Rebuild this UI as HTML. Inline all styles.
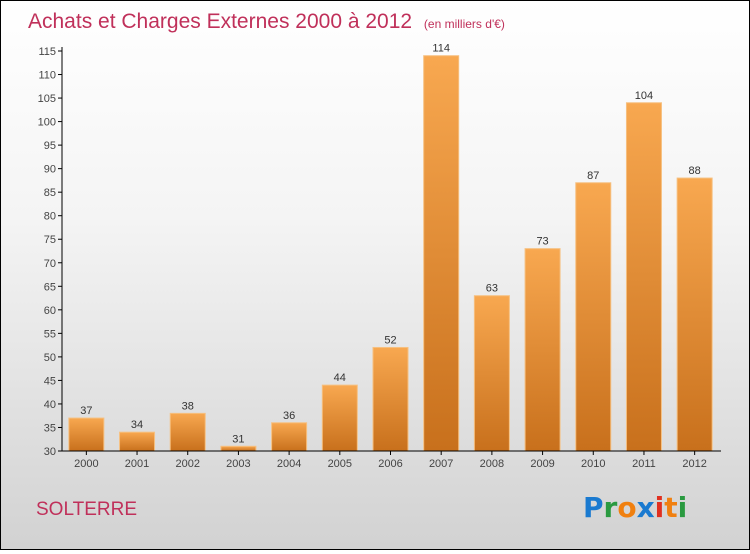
<!DOCTYPE html>
<html><head><meta charset="utf-8"><style>
body{margin:0;width:750px;height:550px;overflow:hidden;font-family:"Liberation Sans",sans-serif}
#c{position:absolute;left:0;top:0;width:748px;height:548px;border:1px solid #000;background:linear-gradient(#fff 0%,#f4f4f4 40%,#d2d2d2 100%)}
</style></head><body>
<div id="c">
<svg width="748" height="548">
<defs><linearGradient id="g" x1="0" y1="0" x2="0" y2="1"><stop offset="0" stop-color="#f8a850"/><stop offset="1" stop-color="#c8701c"/></linearGradient></defs>
<text x="27" y="27" font-size="21" fill="#c0305a">Achats et Charges Externes 2000 à 2012 <tspan font-size="12" dx="6">(en milliers d'€)</tspan></text>
<g id="plot"></g>
<text x="35" y="514" font-size="19" fill="#c0305a">SOLTERRE</text>
<g font-size="28" font-weight="bold" font-family="'DejaVu Sans',sans-serif">
<text x="582" y="516"><tspan fill="#1a7ad0">P</tspan><tspan fill="#2a9a40">r</tspan><tspan fill="#f08010">o</tspan><tspan fill="#1a7ad0">x</tspan><tspan fill="#e03020">i</tspan><tspan fill="#f08010">t</tspan><tspan fill="#2a9a40">i</tspan></text></g>
</svg></div>
<script>
const years=["2000","2001","2002","2003","2004","2005","2006","2007","2008","2009","2010","2011","2012"];
const values=[37,34,38,31,36,44,52,114,63,73,87,104,88];
const yTicks=[30,35,40,45,50,55,60,65,70,75,80,85,90,95,100,105,110,115];
const NS="http://www.w3.org/2000/svg";
const L=61,R=720,T=50,B=450,ymin=30,ymax=115;
const y=v=>B-(v-ymin)/(ymax-ymin)*(B-T);
const bw=(R-L)/years.length;
const x=i=>L+bw*i+bw/2-1;
const g=document.getElementById('plot');
function mk(t,a){const e=document.createElementNS(NS,t);for(const k in a)e.setAttribute(k,a[k]);g.appendChild(e);return e;}
yTicks.forEach(v=>{
 const l=mk('line',{x1:L-4,x2:L,y1:y(v),y2:y(v),stroke:'#000'});
 
 
 const t=mk('text',{x:L-6,y:y(v)+4,'text-anchor':'end','font-size':11,fill:'#444'});
 t.textContent=v;
 
 
});
values.forEach((v,i)=>{
 const r=mk('rect',{x:x(i)-17.5,y:y(v),width:35,height:B-y(v),fill:'url(#g)',stroke:'#f6c080','stroke-width':1});
 
 
 const t=mk('text',{x:x(i),y:y(v)-4,'text-anchor':'middle','font-size':11,fill:'#333'});
 t.textContent=v;
 
 
 const k=mk('line',{x1:x(i),x2:x(i),y1:B,y2:B+4,stroke:'#000'});
 
 
 const xl=mk('text',{x:x(i),y:B+16,'text-anchor':'middle','font-size':11,fill:'#444'});
 xl.textContent=years[i];
 
 
});
const ya=mk('line',{x1:L,x2:L,y1:T-4,y2:B,stroke:'#000'});


const xa=mk('line',{x1:L,x2:R,y1:B,y2:B,stroke:'#000'});


</script>
</body></html>
